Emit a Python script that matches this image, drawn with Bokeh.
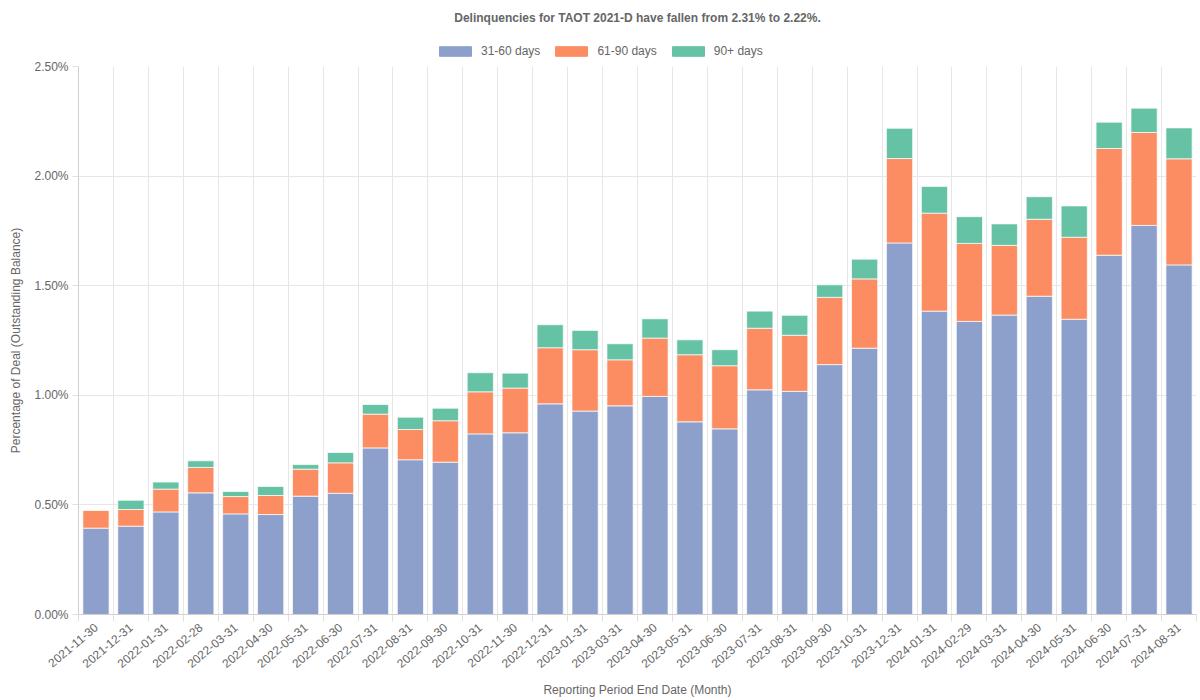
from bokeh.plotting import figure
from bokeh.layouts import column
from bokeh.models import (ColumnDataSource, FixedTicker, PrintfTickFormatter, Legend, LegendItem, Label)
from bokeh.embed import file_html
from bokeh.resources import INLINE

dates = ["2021-11-30", "2021-12-31", "2022-01-31", "2022-02-28", "2022-03-31", "2022-04-30",
         "2022-05-31", "2022-06-30", "2022-07-31", "2022-08-31", "2022-09-30", "2022-10-31",
         "2022-11-30", "2022-12-31", "2023-01-31", "2023-03-31", "2023-04-30", "2023-05-31",
         "2023-06-30", "2023-07-31", "2023-08-31", "2023-09-30", "2023-10-31", "2023-12-31",
         "2024-01-31", "2024-02-29", "2024-03-31", "2024-04-30", "2024-05-31", "2024-06-30",
         "2024-07-31", "2024-08-31"]

d31_60 = [0.394, 0.403, 0.468, 0.555, 0.459, 0.456, 0.540, 0.553, 0.760, 0.706, 0.695, 0.824,
          0.829, 0.961, 0.928, 0.952, 0.995, 0.879, 0.847, 1.025, 1.018, 1.140, 1.215, 1.695,
          1.384, 1.337, 1.366, 1.452, 1.347, 1.639, 1.775, 1.595]
d61_90 = [0.082, 0.076, 0.104, 0.116, 0.079, 0.087, 0.123, 0.139, 0.154, 0.138, 0.189, 0.192,
          0.204, 0.256, 0.280, 0.210, 0.266, 0.306, 0.288, 0.281, 0.256, 0.307, 0.316, 0.385,
          0.447, 0.356, 0.318, 0.351, 0.374, 0.487, 0.424, 0.484]
d90p = [0.000, 0.042, 0.032, 0.030, 0.023, 0.041, 0.021, 0.047, 0.044, 0.056, 0.057, 0.087,
        0.068, 0.105, 0.088, 0.073, 0.088, 0.068, 0.073, 0.078, 0.091, 0.057, 0.090, 0.138,
        0.122, 0.122, 0.098, 0.103, 0.143, 0.120, 0.111, 0.141]

series_names = ["31-60 days", "61-90 days", "90+ days"]
colors = ["#8da0cb", "#fc8d62", "#66c2a5"]
y_ticks = [0.0, 0.5, 1.0, 1.5, 2.0, 2.5]
title_text = "Delinquencies for TAOT 2021-D have fallen from 2.31% to 2.22%."

FONT = "Liberation Sans"
TXT = "#666666"

# ---- header (title + legend); its frame is aligned with the chart frame below ----
top = figure(width=1200, height=58, output_backend="svg", toolbar_location=None,
             x_range=(0, 1), y_range=(0, 1), x_axis_type=None, y_axis_type=None,
             min_border=0)
top.outline_line_color = None
top.grid.visible = False
top.add_layout(Label(x=559, y=41, x_units="screen", y_units="screen", text=title_text,
                     text_align="center", text_baseline="middle", text_font=FONT,
                     text_font_size="12px", text_font_style="bold", text_color=TXT))
# legend proxies (drawn below the header's visible area)
proxies = [top.vbar(x=[0.5], bottom=[-3], top=[-2], width=0.1, color=c) for c in colors]
legend = Legend(items=[LegendItem(label=n, renderers=[r]) for n, r in zip(series_names, proxies)],
                orientation="horizontal", location=(357, 0),
                glyph_width=40, glyph_height=12, label_height=12,
                label_text_font=FONT, label_text_font_size="12px",
                label_text_color=TXT, border_line_color=None, background_fill_alpha=0,
                spacing=11, padding=0, margin=0, label_standoff=6)
top.add_layout(legend)

# ---- main chart ----
idx = list(range(len(dates)))
src = ColumnDataSource(dict(x=idx, a=d31_60, b=d61_90, c=d90p))

p = figure(frame_width=1118, frame_height=548, output_backend="svg", toolbar_location=None,
           x_range=(-0.5, len(dates) - 0.5), y_range=(0, 2.5),
           min_border_left=78, min_border_right=4, min_border_top=8, min_border_bottom=86)

p.vbar_stack(["a", "b", "c"], x="x", width=0.75, source=src, color=colors,
             line_color="white", line_alpha=0.7, line_width=1)

boundaries = [i - 0.5 for i in range(len(dates) + 1)]
p.xaxis.ticker = FixedTicker(ticks=idx, minor_ticks=boundaries)
p.xaxis.major_label_overrides = {i: d for i, d in enumerate(dates)}
p.xaxis.major_label_orientation = 0.7
p.xaxis.major_tick_out = 0
p.xaxis.major_tick_in = 0
p.xaxis.minor_tick_out = 7
p.xaxis.minor_tick_in = 0
p.xaxis.minor_tick_line_color = "#e0e0e0"
p.xgrid.ticker = FixedTicker(ticks=boundaries)
p.xaxis.axis_label = "Reporting Period End Date (Month)"

p.yaxis.ticker = FixedTicker(ticks=y_ticks)
p.yaxis.formatter = PrintfTickFormatter(format="%.2f%%")
p.yaxis.major_tick_out = 6
p.yaxis.major_tick_in = 0
p.yaxis.minor_tick_line_color = None
p.yaxis.axis_label = "Percentage of Deal (Outstanding Balance)"

for ax in (p.xaxis[0], p.yaxis[0]):
    ax.axis_line_color = "#d0d0d0"
    ax.major_tick_line_color = "#e0e0e0"
    ax.major_label_text_font = FONT
    ax.major_label_text_font_size = "12px"
    ax.major_label_text_color = TXT
    ax.axis_label_text_font = FONT
    ax.axis_label_text_font_size = "12px"
    ax.axis_label_text_color = TXT
    ax.axis_label_text_font_style = "normal"
    ax.major_label_standoff = 4
    ax.axis_label_standoff = 8

p.xgrid.grid_line_color = "#e6e6e6"
p.ygrid.grid_line_color = "#e6e6e6"
p.outline_line_color = None

layout = column(top, p, spacing=0)
open("out.html", "w").write(file_html(layout, INLINE))
